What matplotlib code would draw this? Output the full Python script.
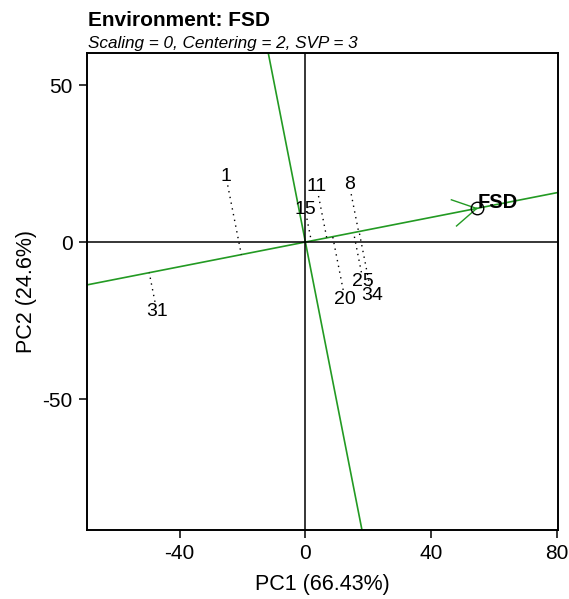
import numpy as np
import matplotlib

matplotlib.use("Agg")
import matplotlib.pyplot as plt

plt.rcParams["font.family"] = ["Liberation Sans", "DejaVu Sans"]
plt.rcParams["axes.unicode_minus"] = False

# genotype scores (PC1, PC2)
gen_names = ["1", "11", "15", "8", "25", "20", "34", "31"]
gen_pc1 = [-25.3, 3.6, -0.1, 14.0, 18.4, 12.6, 21.1, -47.3]
gen_pc2 = [21.0, 17.6, 10.4, 18.2, -12.6, -18.2, -17.1, -22.0]

# environment vector
env_name = "FSD"
env_pc1 = 54.5
env_pc2 = 10.7

title = "Environment: FSD"
subtitle = "Scaling = 0, Centering = 2, SVP = 3"
xlab = "PC1 (66.43%)"
ylab = "PC2 (24.6%)"
xticks = [-40, 0, 40, 80]
yticks = [-50, 0, 50]

green = "#239a23"

fig = plt.figure(figsize=(5.69, 5.99), dpi=100)
ax = fig.add_axes([0.1524, 0.1152, 0.8283, 0.7958])
ax.set_xlim(-69.6, 80.4)
ax.set_ylim(-91.7, 60.1)

# environment axis and its perpendicular through the origin
e = np.array([env_pc1, env_pc2])
ax.axline((0, 0), (e[0], e[1]), color=green, lw=1.2, zorder=2)
ax.axline((0, 0), (-e[1], e[0]), color=green, lw=1.2, zorder=2)

# arrow head at the environment marker
u = e / np.linalg.norm(e)
ang = np.deg2rad(30)
head = 8.5
for s in (1, -1):
    c, sn = np.cos(s * ang), np.sin(s * ang)
    d = -np.array([u[0] * c - u[1] * sn, u[0] * sn + u[1] * c])
    ax.plot([e[0], e[0] + head * d[0]], [e[1], e[1] + head * d[1]],
            color=green, lw=1.0, zorder=2)

ax.axhline(0, color="black", lw=1.1, zorder=3)
ax.axvline(0, color="black", lw=1.1, zorder=3)

# dotted projections of genotypes on the environment axis
gap = 3.0
for x, y in zip(gen_pc1, gen_pc2):
    g = np.array([x, y])
    p = (g @ e) / (e @ e) * e
    d = p - g
    L = np.linalg.norm(d)
    start = g + d / L * gap
    ax.plot([start[0], p[0]], [start[1], p[1]], color="black", lw=1.0,
            linestyle=(0, (1, 3.2)), zorder=4)

for name, x, y in zip(gen_names, gen_pc1, gen_pc2):
    ax.text(x, y, name, ha="center", va="center", fontsize=14, zorder=5)

ax.plot([env_pc1], [env_pc2], "o", ms=9, mfc="none", mec="black", mew=1.0, zorder=5)
ax.annotate(env_name, (env_pc1, env_pc2), xytext=(1, 4.5), textcoords="offset points",
            ha="left", va="center", fontsize=14.5, fontweight="bold", zorder=6)

ax.set_xticks(xticks)
ax.set_yticks(yticks)
ax.tick_params(direction="out", length=6, width=1.1, labelsize=15, pad=4)
for sp in ax.spines.values():
    sp.set_linewidth(1.4)

ax.set_xlabel(xlab, fontsize=15.5)
ax.xaxis.set_label_coords(0.5, -0.1133)
ax.xaxis.label.set_verticalalignment("center")
ax.set_ylabel(ylab, fontsize=15.5)
ax.yaxis.set_label_coords(-0.128, 0.5)
ax.yaxis.label.set_verticalalignment("center")

fig.text(88 / 569, 1 - 25.7 / 599, title, fontsize=15, fontweight="bold",
         ha="left", va="baseline")
fig.text(88 / 569, 1 - 48.3 / 599, subtitle, fontsize=12.3, style="italic",
         ha="left", va="baseline")

fig.savefig("out.png", dpi=100)
